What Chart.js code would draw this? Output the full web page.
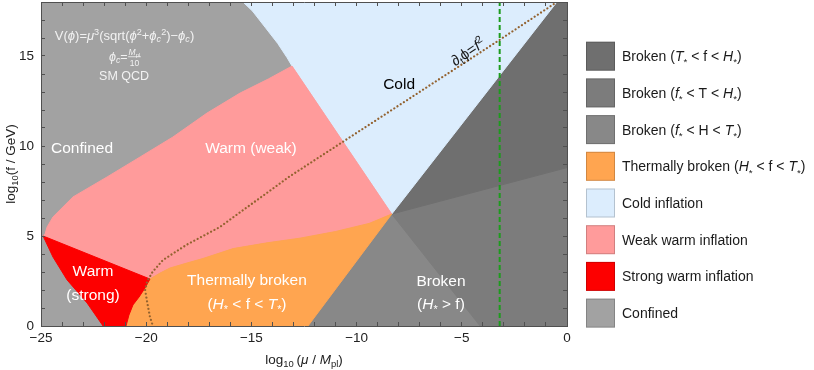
<!DOCTYPE html>
<html><head><meta charset="utf-8">
<script src="https://cdn.jsdelivr.net/npm/chart.js@4.4.1/dist/chart.umd.min.js"></script>
<style>html,body{margin:0;padding:0;background:#fff;}canvas{display:block;}</style>
</head><body>
<canvas id="c" width="814" height="370"></canvas>
<script>
// ---------- axes ----------
const xLimits = [-25, 0];
const yLimits = [0, 18];
const xTickValues = [-25, -20, -15, -10, -5, 0];
const yTickValues = [0, 5, 10, 15];

// ---------- region boundaries: [log10(mu/Mpl), log10(f/GeV)] ----------
const quadruplePoint = [-8.33, 6.22];
const confinedColdEdge = [[-15.4,18],[-14.95,17.5],[-14.35,16.6],[-13.75,15.7],[-13.3,14.9],[-13.07,14.44]];
const weakWarmUpperEdge = [[-13.07,14.44],[-14.2,13.72],[-15.54,12.94],[-17.11,11.83],[-18.73,10.5],[-20.29,9.39],[-21.86,8.28],[-23.48,7.17],[-24.43,6.06],[-24.71,5.5],[-24.81,5.1],[-24.9,5.0]];
const strongWarmUpperEdge = [[-24.9,5.0],[-19.82,2.61]];
const strongWarmLeftEdge = [[-24.9,5.0],[-24.43,3.83],[-23.76,2.56],[-22.81,1.28],[-22.05,0]];
const strongWarmRightEdge = [[-20.96,0],[-20.82,0.61],[-20.63,1.17],[-20.34,1.61],[-20.06,2.11],[-19.82,2.61]];
const thermalUpperEdge = [[-19.82,2.61],[-19.34,2.94],[-18.87,3.22],[-18.06,3.5],[-17.3,3.75],[-15.87,4.3],[-14.26,4.62],[-12.69,4.88],[-11.0,5.25],[-9.4,5.7],[-8.33,6.22]];
const coldRightEnd = [-0.48, 18];
const hotBrokenEnd = [0, 8.8];
const diagonalBrokenEnd = [-4.13, 0];
const thermalRightEnd = [-12.31, 0];
// curve d(phi)/dt = f^2
const slowRollCurve = [[-0.48,18],[-3.2,15.9],[-8,12.25],[-13.2,8.3],[-16.5,5.5],[-18.1,4.5],[-19.2,3.67],[-19.7,3.0],[-19.95,2.5],[-20.05,2.0],[-19.95,1.3],[-19.82,0.5],[-19.68,0]];
const benchmarkMu = -3.2;

// ---------- legend ----------
const legendColors = ['#6f6f6f','#7c7c7c','#888888','#ffa550','#dcedfd','#ff9b9b','#fd0000','#a2a2a2'];
const legendLabels = [
  [['Broken ('],['T','i'],['*','ast'],[' < f < '],['H','i'],['*','ast'],[')']],
  [['Broken ('],['f','i'],['*','ast'],[' < T < '],['H','i'],['*','ast'],[')']],
  [['Broken ('],['f','i'],['*','ast'],[' < H < '],['T','i'],['*','ast'],[')']],
  [['Thermally broken ('],['H','i'],['*','ast'],[' < f < '],['T','i'],['*','ast'],[')']],
  [['Cold inflation']],
  [['Weak warm inflation']],
  [['Strong warm inflation']],
  [['Confined']]
];

// ---------- build polygons ----------
const P = pts => pts.map(([x,y]) => ({x, y}));
const closed = pts => P([...pts, pts[0]]);
const confinedPoly = [[xLimits[0],yLimits[0]],[xLimits[1],yLimits[0]],[xLimits[1],yLimits[1]],[xLimits[0],yLimits[1]]];
const coldPoly = [...confinedColdEdge, quadruplePoint, coldRightEnd];
const brokenTfH = [quadruplePoint, coldRightEnd, [xLimits[1], yLimits[1]], hotBrokenEnd];
const brokenfTH = [quadruplePoint, hotBrokenEnd, [xLimits[1], yLimits[0]], diagonalBrokenEnd];
const brokenfHT = [quadruplePoint, diagonalBrokenEnd, thermalRightEnd];
const weakWarmPoly = [...weakWarmUpperEdge, ...strongWarmUpperEdge.slice(1), ...thermalUpperEdge.slice(1)];
const strongWarmPoly = [...strongWarmLeftEdge, ...strongWarmRightEdge];
const thermalPoly = [...thermalUpperEdge, thermalRightEnd, ...strongWarmRightEdge];

function region(pts, color) {
  return { data: closed(pts), showLine: true, fill: 'shape', backgroundColor: color, borderColor: color,
           borderWidth: 1, borderJoinStyle: 'round', pointRadius: 0, pointHoverRadius: 0, tension: 0, clip: 0 };
}
const datasets = [
  { data: P([[benchmarkMu, yLimits[0]], [benchmarkMu, yLimits[1]]]), showLine: true, fill: false,
    borderColor: '#1c9c1c', borderWidth: 2, borderDash: [5, 3], pointRadius: 0, clip: 0 },
  { data: P(slowRollCurve), showLine: true, fill: false, borderColor: '#93622f', borderWidth: 2.2,
    borderDash: [0.01, 3.8], borderCapStyle: 'round', pointRadius: 0, tension: 0, clip: 0 },
  region(strongWarmPoly, legendColors[6]),
  region(thermalPoly, legendColors[3]),
  region(weakWarmPoly, legendColors[5]),
  region(coldPoly, legendColors[4]),
  region(brokenTfH, legendColors[0]),
  region(brokenfTH, legendColors[1]),
  region(brokenfHT, legendColors[2]),
  region(confinedPoly, legendColors[7])
];

// ---------- rich text helpers ----------
const FONT = "'Liberation Sans', Arial, sans-serif";
const small = st => st === 'sub' || st === 'isub' || st === 'sup' || st === 'ast';
function runFont(size, st) {
  const it = st === 'i' || st === 'isub';
  return (it ? 'italic ' : '') + (small(st) ? size * 0.7 : size).toFixed(2) + 'px ' + FONT;
}
function runWidth(ctx, run, size) {
  const [t, st] = run;
  if (st === 'frac') return Math.max(runsWidth(ctx, t.num, size * 0.68), runsWidth(ctx, t.den, size * 0.68)) + 2;
  ctx.font = runFont(size, st);
  return ctx.measureText(t).width;
}
function runsWidth(ctx, runs, size) { return runs.reduce((w, r) => w + runWidth(ctx, r, size), 0); }
function drawRuns(ctx, runs, x, base, size, align) {
  const w = runsWidth(ctx, runs, size);
  let cx = align === 'center' ? x - w / 2 : align === 'right' ? x - w : x;
  ctx.textAlign = 'left'; ctx.textBaseline = 'alphabetic';
  for (const r of runs) {
    const [t, st] = r;
    const rw = runWidth(ctx, r, size);
    if (st === 'frac') {
      const fs = size * 0.68;
      drawRuns(ctx, t.num, cx + rw / 2, base - size * 0.45, fs, 'center');
      drawRuns(ctx, t.den, cx + rw / 2, base + size * 0.42, fs, 'center');
      ctx.fillRect(cx + 0.5, base - size * 0.33, rw - 1, 0.8);
    } else {
      ctx.font = runFont(size, st);
      let dy = 0;
      if (st === 'sub' || st === 'isub') dy = size * 0.2;
      else if (st === 'sup') dy = -size * 0.38;
      else if (st === 'ast') dy = size * 0.3;
      ctx.fillText(t, cx, base + dy);
    }
    cx += rw;
  }
}

// labels placed at data positions
const plotLabels = [
  { at: [-21.03, 16.17], size: 13, color: '#f2f2f2', runs: [['V('],['\u03d5','i'],[')='],['\u03bc','i'],['3','sup'],['(sqrt('],['\u03d5','i'],['2','sup'],['+'],['\u03d5','i'],['c','isub'],['2','sup'],[')\u2212'],['\u03d5','i'],['c','isub'],[')']] },
  { at: [-21.0, 15.0], size: 12.5, color: '#f2f2f2', runs: [['\u03d5','i'],['c','isub'],['='],[{num: [['M','i'],['pl','sub']], den: [['10']]}, 'frac']] },
  { at: [-21.05, 13.94], size: 12.5, color: '#f2f2f2', runs: [['SM QCD']] },
  { at: [-23.05, 9.94], size: 15.5, color: '#ffffff', runs: [['Confined']] },
  { at: [-15.02, 9.94], size: 15.5, color: '#ffffff', runs: [['Warm (weak)']] },
  { at: [-7.98, 13.5], size: 15.5, color: '#000000', runs: [['Cold']] },
  { at: [-22.53, 3.11], size: 15.5, color: '#ffffff', runs: [['Warm']] },
  { at: [-22.53, 1.78], size: 15.5, color: '#ffffff', runs: [['(strong)']] },
  { at: [-15.21, 2.61], size: 15.5, color: '#ffffff', runs: [['Thermally broken']] },
  { at: [-15.21, 1.28], size: 15.5, color: '#ffffff', runs: [['('],['H','i'],['*','ast'],[' < f < '],['T','i'],['*','ast'],[')']] },
  { at: [-5.99, 2.56], size: 15.5, color: '#ffffff', runs: [['Broken']] },
  { at: [-5.99, 1.28], size: 15.5, color: '#ffffff', runs: [['('],['H','i'],['*','ast'],[' > f)']] },
  { at: [-4.72, 15.25], size: 15, color: '#1a1a1a', rot: -34, runs: [['\u2202'],['t','sub'],['\u03d5'],['='],['f','i'],['2','sup']] }
];
const xTitle = [['log'],['10','sub'],['\u2009('],['\u03bc','i'],[' / '],['M','i'],['pl','sub'],[')']];
const yTitle = [['log'],['10','sub'],['(f / GeV)']];

const textPlugin = {
  id: 'richText',
  afterDraw(chart) {
    const { ctx, scales: { x, y }, chartArea } = chart;
    ctx.save();
    for (const a of plotLabels) {
      const px = x.getPixelForValue(a.at[0]), py = y.getPixelForValue(a.at[1]);
      ctx.save();
      ctx.translate(px, py);
      if (a.rot) ctx.rotate(a.rot * Math.PI / 180);
      ctx.fillStyle = a.color;
      drawRuns(ctx, a.runs, 0, a.size * 0.36, a.size, 'center');
      ctx.restore();
    }
    // axis titles
    ctx.fillStyle = '#222';
    drawRuns(ctx, xTitle, (chartArea.left + chartArea.right) / 2, 364, 13.5, 'center');
    ctx.save();
    ctx.translate(15, (chartArea.top + chartArea.bottom) / 2);
    ctx.rotate(-Math.PI / 2);
    drawRuns(ctx, yTitle, 0, 0, 13.5, 'center');
    ctx.restore();
    // legend
    for (let i = 0; i < legendLabels.length; i++) {
      const top = 41.7 + i * 36.7;
      ctx.fillStyle = legendColors[i];
      ctx.fillRect(586, top, 29, 29);
      ctx.strokeStyle = 'rgba(0,0,0,0.18)';
      ctx.lineWidth = 1;
      ctx.strokeRect(586.5, top + 0.5, 28, 28);
      ctx.fillStyle = '#1a1a1a';
      drawRuns(ctx, legendLabels[i], 622, top + 14.5 + 14 * 0.36, 14, 'left');
    }
    ctx.restore();
  }
};

const FRAME = '#505050';
const fmt = v => v < 0 ? '\u2212' + (-v) : String(v);
function axis(pos, lim, labelled, size) {
  const horiz = pos === 'bottom' || pos === 'top';
  return {
    type: 'linear', position: pos, min: lim[0], max: lim[1],
    border: { display: true, color: FRAME, width: 1, z: 2 },
    grid: { drawOnChartArea: false, drawTicks: true, tickLength: -4, tickColor: FRAME, tickWidth: 1, z: 2 },
    ticks: {
      stepSize: 1, autoSkip: false, maxRotation: 0, maxTicksLimit: 200, z: 2,
      padding: horiz ? 8 : 11, color: '#222', font: { family: FONT, size: 13.5 },
      callback: v => labelled && labelled.includes(v) ? fmt(v) : ''
    },
    afterFit(s) {
      if (horiz) s.height = size; else s.width = size;
      s.paddingTop = 0; s.paddingBottom = 0; s.paddingLeft = 0; s.paddingRight = 0;
    }
  };
}

new Chart(document.getElementById('c'), {
  type: 'scatter',
  data: { datasets },
  options: {
    responsive: false, animation: false, events: [],
    layout: { padding: { left: 0, right: 247, top: 2, bottom: 0 } },
    plugins: { legend: { display: false }, tooltip: { enabled: false } },
    scales: {
      x: axis('bottom', xLimits, xTickValues, 44),
      y: axis('left', yLimits, yTickValues, 41),
      x2: axis('top', xLimits, null, 0),
      y2: axis('right', yLimits, null, 0)
    }
  },
  plugins: [textPlugin]
});
</script>
</body></html>
